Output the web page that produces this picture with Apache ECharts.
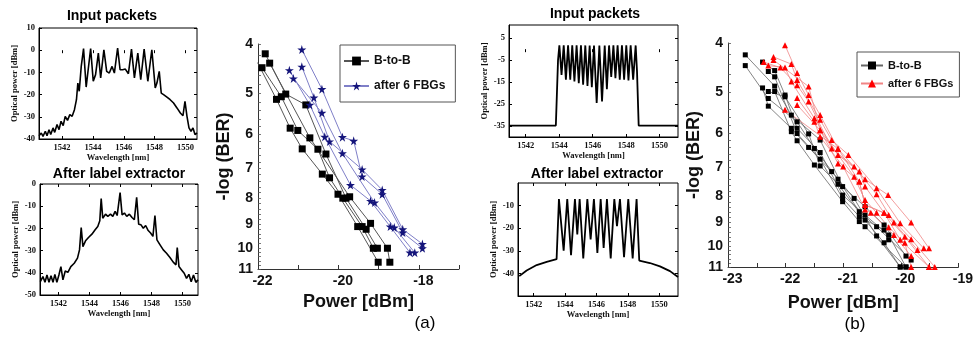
<!DOCTYPE html>
<html><head><meta charset="utf-8">
<script src="https://cdn.jsdelivr.net/npm/echarts@6/dist/echarts.min.js"></script>
<style>html,body{margin:0;padding:0;background:#fff}#c{width:976px;height:341px}</style>
</head><body><div id="c"></div>
<script>
// ---------- spectra data [wavelength nm, power dBm] ----------
const specAInput = [[1540.50,-38.5],[1540.65,-37.3],[1540.76,-38.8],[1540.91,-36.5],[1541.02,-38.5],[1541.15,-35.8],[1541.26,-38.0],[1541.41,-35.0],[1541.52,-37.0],[1541.67,-33.5],[1541.80,-35.8],[1541.93,-32.0],[1542.07,-34.0],[1542.20,-29.8],[1542.35,-31.6],[1542.50,-29.0],[1542.65,-29.8],[1542.80,-26.8],[1542.93,-22.3],[1543.02,-14.8],[1543.11,-18.5],[1543.24,-7.3],[1543.39,0.7],[1543.56,-16.6],[1543.69,-8.8],[1543.85,0.7],[1544.02,-14.0],[1544.17,-11.0],[1544.35,-1.3],[1544.50,-12.5],[1544.71,0.2],[1544.89,-9.5],[1545.06,-10.3],[1545.24,-7.3],[1545.39,-10.3],[1545.60,1.0],[1545.76,-8.8],[1545.93,-8.8],[1546.10,-8.5],[1546.30,-10.6],[1546.50,0.5],[1546.69,-12.5],[1546.91,-1.3],[1547.10,-13.3],[1547.32,0.5],[1547.56,-14.0],[1547.82,0.2],[1548.04,-17.0],[1548.15,-14.8],[1548.30,-9.5],[1548.43,-19.3],[1548.58,-20.0],[1548.80,-21.1],[1549.01,-22.3],[1549.23,-23.8],[1549.45,-26.0],[1549.67,-28.3],[1549.84,-29.5],[1549.97,-23.0],[1550.10,-29.8],[1550.23,-35.0],[1550.36,-36.5],[1550.49,-35.0],[1550.62,-38.0],[1550.75,-37.3]];
const specAOutput = [[1540.82,-44.0],[1540.99,-41.7],[1541.12,-44.3],[1541.25,-41.0],[1541.38,-44.3],[1541.51,-41.3],[1541.64,-44.3],[1541.76,-40.7],[1541.89,-44.3],[1542.02,-41.0],[1542.15,-37.2],[1542.28,-43.2],[1542.43,-39.2],[1542.60,-39.8],[1542.79,-37.2],[1543.01,-35.7],[1543.22,-33.4],[1543.35,-29.7],[1543.46,-19.6],[1543.57,-28.2],[1543.74,-25.6],[1543.93,-24.1],[1544.15,-22.6],[1544.36,-20.6],[1544.53,-19.1],[1544.66,-16.6],[1544.75,-6.6],[1544.85,-15.4],[1545.03,-13.6],[1545.18,-14.6],[1545.35,-13.6],[1545.50,-14.6],[1545.65,-12.3],[1545.78,-14.2],[1545.97,-3.9],[1546.10,-13.9],[1546.25,-13.1],[1546.40,-14.6],[1546.57,-13.6],[1546.74,-15.1],[1546.89,-16.1],[1547.04,-6.0],[1547.17,-18.1],[1547.32,-18.4],[1547.47,-19.9],[1547.62,-18.7],[1547.77,-20.8],[1547.94,-22.1],[1548.09,-23.6],[1548.22,-14.2],[1548.35,-25.2],[1548.55,-27.4],[1548.76,-29.7],[1548.97,-31.2],[1549.19,-33.1],[1549.40,-35.2],[1549.58,-36.4],[1549.66,-28.6],[1549.77,-37.2],[1549.94,-38.7],[1550.11,-40.2],[1550.26,-42.5],[1550.41,-40.7],[1550.56,-44.0],[1550.71,-41.0],[1550.86,-44.3],[1551.00,-43.2]];
const specBInput = [[1541.02,-34.8],[1543.80,-34.8],[1543.93,-5.0],[1544.01,1.7],[1544.14,-11.7],[1544.27,1.7],[1544.40,-13.9],[1544.53,1.7],[1544.66,-13.9],[1544.78,1.7],[1544.91,-14.7],[1545.04,1.7],[1545.17,-15.5],[1545.30,1.7],[1545.43,-16.2],[1545.56,1.7],[1545.69,-16.7],[1545.82,1.7],[1545.95,-17.3],[1546.08,1.7],[1546.24,-24.5],[1546.40,1.7],[1546.56,-23.8],[1546.72,1.7],[1546.85,-18.2],[1546.98,1.7],[1547.11,-12.7],[1547.24,1.7],[1547.36,-13.2],[1547.49,1.7],[1547.62,-13.9],[1547.75,1.7],[1547.88,-13.9],[1548.01,1.7],[1548.14,-14.2],[1548.27,1.7],[1548.42,-13.9],[1548.57,1.7],[1548.65,-10.0],[1548.75,-34.8],[1551.10,-34.8]];
const specBOutput = [[1541.08,-41.2],[1541.55,-38.7],[1542.19,-36.3],[1542.83,-34.9],[1543.46,-33.7],[1543.61,-7.1],[1543.91,-29.9],[1544.14,-7.1],[1544.38,-31.9],[1544.63,-7.1],[1544.78,-22.8],[1544.93,-7.1],[1545.16,-33.4],[1545.42,-7.1],[1545.63,-25.0],[1545.84,-7.1],[1546.06,-30.9],[1546.27,-7.1],[1546.46,-28.7],[1546.67,-7.1],[1546.91,-33.4],[1547.14,-7.1],[1547.31,-19.1],[1547.50,-7.1],[1547.76,-32.8],[1548.03,-7.1],[1548.31,-33.4],[1548.56,-7.1],[1548.73,-34.3],[1549.41,-35.4],[1550.05,-36.9],[1550.69,-39.0],[1551.20,-41.6]];

// ---------- BER data [power dBm, -log(BER)] ----------
const berA_B2B = [
  [[-22.01,4.35],[-21.54,5.13],[-21.20,5.84],[-20.90,6.41],[-20.40,7.18],[-20.01,7.86],[-19.52,9.09],[-19.01,10.67]],
  [[-21.90,4.45],[-21.42,5.07],[-21.01,5.90],[-20.51,6.42],[-20.22,7.30],[-19.89,8.00],[-19.41,9.09],[-19.13,10.02]],
  [[-21.82,4.18],[-21.31,5.01],[-20.81,5.26],[-20.31,6.56],[-19.81,8.00],[-19.31,9.20],[-19.03,10.02]],
  [[-21.71,4.36],[-20.71,6.10],[-19.72,7.95],[-19.20,8.96],[-18.78,10.02],[-18.72,10.67]]
];
const berA_FBG = [
  [[-20.91,4.10],[-20.41,4.90],[-19.90,6.08],[-19.62,6.18],[-19.41,7.26],[-18.91,7.86],[-18.40,9.34],[-17.91,10.02]],
  [[-20.91,4.43],[-20.61,5.09],[-20.22,6.20],[-19.41,7.03],[-18.91,7.71],[-18.40,9.20],[-17.91,9.83]],
  [[-21.22,4.50],[-20.71,5.26],[-20.34,6.07],[-19.70,7.54],[-19.20,8.10],[-18.71,9.09],[-18.22,10.22]],
  [[-21.12,4.67],[-20.41,5.45],[-19.90,6.54],[-19.10,8.16],[-18.61,9.13],[-18.10,10.22]]
];
const berB_B2B = [
  [[-22.70,4.22],[-22.19,4.86],[-21.90,5.54],[-21.40,6.20],[-21.01,7.65],[-20.62,8.38],[-20.29,9.10],[-19.91,10.47]],
  [[-22.70,4.43],[-22.30,5.14],[-21.80,5.71],[-21.50,6.44],[-21.09,7.40],[-20.72,8.57],[-20.42,9.17],[-19.82,10.66]],
  [[-22.40,4.36],[-22.19,4.53],[-22.01,5.06],[-21.80,5.88],[-21.40,6.56],[-21.01,7.95],[-20.62,8.70],[-20.21,9.52],[-19.91,11.0]],
  [[-22.40,4.90],[-22.30,5.32],[-21.90,5.88],[-21.60,6.41],[-21.20,7.15],[-20.81,8.07],[-20.42,9.56],[-20.01,11.0]],
  [[-22.30,4.55],[-22.19,4.66],[-21.80,6.02],[-21.40,6.76],[-21.01,8.07],[-20.72,8.76],[-20.29,9.31],[-20.21,9.73]],
  [[-22.30,4.98],[-22.01,5.10],[-21.60,6.03],[-21.40,6.97],[-21.09,7.57],[-20.62,8.90],[-20.29,9.86],[-20.01,11.0]],
  [[-22.19,4.98],[-21.90,5.97],[-21.80,6.22],[-21.50,6.94],[-21.01,8.19],[-20.72,8.96],[-20.62,9.17],[-19.91,11.0]]
];
const berB_FBG = [
  [[-22.01,4.04],[-21.80,4.58],[-21.60,5.06],[-21.40,5.54],[-21.09,6.45],[-20.62,7.40],[-20.22,7.95],[-19.82,9.00],[-19.51,10.11]],
  [[-22.21,4.26],[-21.90,4.40],[-21.80,4.73],[-21.40,5.66],[-21.20,6.20],[-20.91,6.63],[-20.42,7.71],[-20.01,9.03],[-19.60,10.11]],
  [[-22.38,4.36],[-22.09,4.47],[-21.80,4.84],[-21.60,5.21],[-21.20,6.44],[-20.81,6.99],[-20.42,7.92],[-20.12,9.00],[-19.71,10.19]],
  [[-22.30,4.43],[-22.01,4.47],[-21.90,4.76],[-21.50,5.62],[-21.09,6.63],[-20.72,7.15],[-20.62,7.65],[-20.29,8.61],[-19.93,9.59],[-19.51,11.0]],
  [[-22.21,4.32],[-21.60,4.87],[-21.40,5.93],[-21.09,6.89],[-20.72,7.48],[-20.62,8.31],[-20.21,8.70],[-19.82,9.70],[-19.41,11.0]],
  [[-21.80,5.13],[-21.50,5.71],[-21.40,6.11],[-21.00,6.99],[-20.62,8.48],[-20.52,8.61],[-20.12,9.52],[-19.82,10.47]],
  [[-21.80,5.29],[-21.40,5.93],[-20.81,7.32],[-20.62,8.13],[-20.42,8.61],[-20.21,9.19],[-19.93,9.86],[-19.82,11.0]],
  [[-22.01,5.41],[-21.09,6.45],[-20.72,7.48],[-20.62,8.31],[-20.29,8.61],[-20.01,9.73],[-19.51,11.0]]
];

// ---------- tick labels ----------
const wlLabels = [1542,1544,1546,1548,1550];
const yLabelsBIn = [5,-5,-15,-25,-35];
const yLabelsBOut = [-10,-20,-30,-40];
const berLabels = [4,5,6,7,8,9,10,11];
const pwrLabelsA = [-22,-20,-18];
const pwrTicksA = [-22,-21,-20,-19,-18,-17];
const pwrLabelsB = [-23,-22,-21,-20,-19];
const pwrTicksB = [-23,-22.5,-22,-21.5,-21,-20.5,-20,-19.5,-19];

const SERIF = '"Liberation Serif","Times New Roman",serif';
const SANS = '"Liberation Sans",Arial,sans-serif';
const berMinor = [];
for (let i = 40; i <= 110; i += 2) berMinor.push(i / 10);

const chart = echarts.init(document.getElementById('c'), null, {renderer: 'canvas'});
const plain = v => String(v);

function specX(gi, min, max) {
  return {type:'value', gridIndex:gi, min:min, max:max,
    name:'Wavelength [nm]', nameLocation:'middle', nameGap:12,
    nameTextStyle:{fontFamily:SERIF, fontWeight:'bold', fontSize:8.5, color:'#111'},
    axisLine:{show:true, onZero:false, lineStyle:{color:'#000', width:1}},
    axisTick:{inside:true, length:3, customValues:wlLabels, lineStyle:{color:'#000'}},
    axisLabel:{customValues:wlLabels, formatter:plain, margin:4, fontFamily:SERIF, fontWeight:'bold', fontSize:8.5, color:'#111'},
    splitLine:{show:false}};
}
function specXTop(gi, min, max) {
  return {type:'value', gridIndex:gi, min:min, max:max, position:'top',
    axisLine:{show:false}, axisTick:{inside:true, length:3, customValues:wlLabels, lineStyle:{color:'#000'}},
    axisLabel:{show:false}, splitLine:{show:false}};
}
function specY(gi, min, max, labels, interval) {
  const a = {type:'value', gridIndex:gi, min:min, max:max,
    name:'Optical power [dBm]', nameLocation:'middle', nameGap:19,
    nameTextStyle:{fontFamily:SERIF, fontWeight:'bold', fontSize:8.5, color:'#111'},
    axisLine:{show:true, onZero:false, lineStyle:{color:'#000', width:1}},
    axisTick:{inside:true, length:3, lineStyle:{color:'#000'}},
    axisLabel:{margin:4, fontFamily:SERIF, fontWeight:'bold', fontSize:8.5, color:'#111'},
    splitLine:{show:false}};
  if (labels) { a.axisLabel.customValues = labels; a.axisTick.customValues = labels; }
  else a.interval = interval;
  return a;
}
function specYRight(gi, min, max, labels, interval) {
  const a = {type:'value', gridIndex:gi, min:min, max:max, position:'right',
    axisLine:{show:false}, axisTick:{inside:true, length:3, lineStyle:{color:'#000'}},
    axisLabel:{show:false}, splitLine:{show:false}};
  if (labels) a.axisTick.customValues = labels; else a.interval = interval;
  return a;
}
function berX(gi, min, max, labels, ticks, gap) {
  return {type:'value', gridIndex:gi, min:min, max:max,
    name:'Power [dBm]', nameLocation:'middle', nameGap:gap,
    nameTextStyle:{fontFamily:SANS, fontWeight:'bold', fontSize:18, color:'#111'},
    axisLine:{show:true, onZero:false, lineStyle:{color:'#333', width:1}},
    axisTick:{inside:true, length:4, customValues:ticks, lineStyle:{color:'#333'}},
    axisLabel:{customValues:labels, margin:5, padding:[0,0,0,9], fontFamily:SANS, fontWeight:'bold', fontSize:14, color:'#111'},
    splitLine:{show:false}};
}
function berY(gi) {
  return {type:'log', logBase:10, gridIndex:gi, min:4, max:11, inverse:true,
    name:'-log (BER)', nameLocation:'middle', nameGap:24,
    nameTextStyle:{fontFamily:SANS, fontWeight:'bold', fontSize:18, color:'#111'},
    axisLine:{show:true, onZero:false, lineStyle:{color:'#333', width:1}},
    axisTick:{inside:true, length:3, customValues:berMinor, lineStyle:{color:'#555', width:0.8}},
    axisLabel:{customValues:berLabels, margin:5, fontFamily:SANS, fontWeight:'bold', fontSize:14, color:'#111'},
    splitLine:{show:false}, minorTick:{show:false}};
}

const series = [];
function spec(data, gi, w) {
  series.push({type:'line', xAxisIndex:gi, yAxisIndex:gi, data:data, showSymbol:false, symbol:'none',
    lineStyle:{color:'#000', width:w}, silent:true, animation:false});
}
spec(specAInput, 0, 1.6);
spec(specAOutput, 1, 1.6);
spec(specBInput, 3, 1.8);
spec(specBOutput, 4, 1.8);

const STAR = 'path://M50,0 L61,35 L98,35 L68,57 L79,91 L50,70 L21,91 L32,57 L2,35 L39,35 Z';
function berSeries(curves, gi, name, sym, size, col, lineCol, lw) {
  curves.forEach(c => series.push({type:'line', name:name, xAxisIndex:gi, yAxisIndex:gi, data:c,
    symbol:sym, symbolSize:size, showAllSymbol:true, itemStyle:{color:col},
    lineStyle:{color:lineCol, width:lw}, animation:false, z:3}));
}
berSeries(berA_B2B, 2, 'a|B-to-B', 'rect', 7, '#000', '#555', 1);
berSeries(berA_FBG, 2, 'a|after 6 FBGs', STAR, 9, '#14147a', '#7f7fc8', 1);
berSeries(berB_B2B, 5, 'b|B-to-B', 'rect', 5, '#000', '#666', 0.8);
berSeries(berB_FBG, 5, 'b|after 6 FBGs', 'triangle', 6, '#ff0000', '#f08585', 0.8);

const txt = (x, y, t, size, weight) => ({type:'text', x:x, y:y, silent:true,
  style:{text:t, fontFamily:SANS, fontWeight:weight, fontSize:size, fill:'#000', align:'center', verticalAlign:'middle'}});

chart.setOption({
  animation:false,
  backgroundColor:'#fff',
  grid:[
    {left:39, top:28, width:158, height:111, show:true, borderColor:'#000', borderWidth:1},
    {left:40, top:184, width:158, height:111, show:true, borderColor:'#000', borderWidth:1},
    {left:258, top:44, width:201, height:225},
    {left:509, top:25, width:169, height:112, show:true, borderColor:'#000', borderWidth:1},
    {left:518, top:183, width:160, height:113, show:true, borderColor:'#000', borderWidth:1},
    {left:728, top:43, width:237, height:224}
  ],
  xAxis:[
    specX(0, 1540.5, 1550.75),
    specX(1, 1540.8, 1551),
    berX(2, -22, -17, pwrLabelsA, pwrTicksA, 21),
    specX(3, 1541, 1551.1),
    specX(4, 1541, 1551.2),
    berX(5, -23, -19, pwrLabelsB, pwrTicksB, 27),
    specXTop(0, 1540.5, 1550.75),
    specXTop(1, 1540.8, 1551),
    specXTop(3, 1541, 1551.1),
    specXTop(4, 1541, 1551.2)
  ],
  yAxis:[
    specY(0, -40, 10, null, 10),
    specY(1, -50, 0, null, 10),
    berY(2),
    specY(3, -40, 11, yLabelsBIn),
    specY(4, -50, 0, yLabelsBOut),
    berY(5),
    specYRight(0, -40, 10, null, 10),
    specYRight(1, -50, 0, null, 10),
    specYRight(3, -40, 11, yLabelsBIn),
    specYRight(4, -50, 0, yLabelsBOut)
  ],
  legend:[
    {data:['a|B-to-B','a|after 6 FBGs'], orient:'vertical', left:340, top:45, width:118,
     padding:[10,10,10,3], itemGap:13, itemWidth:25, itemHeight:11,
     borderColor:'#555', borderWidth:1, backgroundColor:'#fff',
     formatter:n => n.split('|')[1],
     textStyle:{fontFamily:SANS, fontWeight:'bold', fontSize:12, color:'#111'}},
    {data:['b|B-to-B','b|after 6 FBGs'], orient:'vertical', left:857, top:52,
     padding:[8,6,8,3], itemGap:7, itemWidth:22, itemHeight:10,
     borderColor:'#555', borderWidth:1, backgroundColor:'#fff',
     formatter:n => n.split('|')[1],
     textStyle:{fontFamily:SANS, fontWeight:'bold', fontSize:11, color:'#111'}}
  ],
  graphic:[
    txt(112, 16, 'Input packets', 14, 'bold'),
    txt(119, 174, 'After label extractor', 14, 'bold'),
    txt(595, 14, 'Input packets', 14, 'bold'),
    txt(597, 174, 'After label extractor', 14, 'bold'),
    txt(425, 323, '(a)', 17, 'normal'),
    txt(855, 324, '(b)', 17, 'normal')
  ],
  series:series
});
</script></body></html>
